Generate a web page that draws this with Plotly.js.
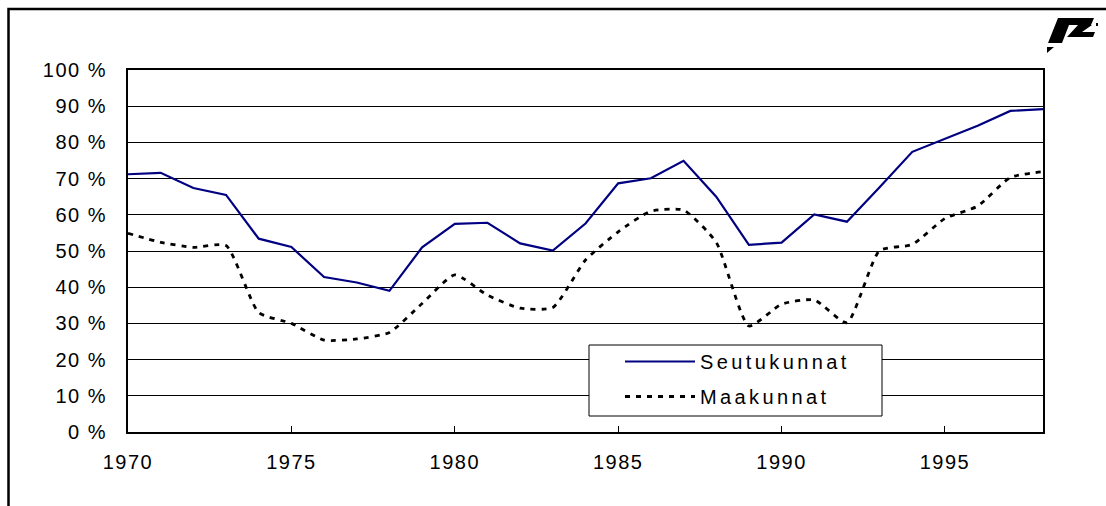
<!DOCTYPE html>
<html>
<head>
<meta charset="utf-8">
<script src="https://cdn.plot.ly/plotly-3.0.1.min.js"></script>
<style>
  html, body { margin: 0; padding: 0; background: #fff; }
  #chart { width: 1106px; height: 506px; }
  .xtick text, .ytick text { letter-spacing: 1.5px; }
  .legendtext { letter-spacing: 3.4px; }
</style>
</head>
<body>
<div id="chart"></div>
<script>
// Data
const years = [1970,1971,1972,1973,1974,1975,1976,1977,1978,1979,1980,1981,1982,1983,1984,1985,1986,1987,1988,1989,1990,1991,1992,1993,1994,1995,1996,1997,1998];
const seutukunnat = [71.2,71.6,67.4,65.5,53.4,51.1,42.8,41.3,39.0,51.0,57.5,57.8,52.1,50.1,57.6,68.7,70.1,74.9,65.0,51.7,52.3,60.1,58.1,67.6,77.4,80.9,84.6,88.7,89.2];
const maakunnat  = [54.9,52.4,51.0,51.5,33.0,30.0,25.4,25.7,27.5,35.5,43.4,37.8,34.2,34.4,47.5,55.3,61.0,61.3,52.4,29.3,35.3,36.5,30.2,50.1,51.8,59.0,62.4,70.3,71.9];
const seriesNames = ['Seutukunnat', 'Maakunnat'];
const xTicks = [1970,1975,1980,1985,1990,1995];
const yTicks = [0,10,20,30,40,50,60,70,80,90,100];

// Layout geometry (pixels) -> paper coordinates helper for decorations
const W = 1106, H = 506;
const M = {l: 128, r: 63, t: 70, b: 74};
const PW = W - M.l - M.r, PH = H - M.t - M.b;
const px = x => (x - M.l) / PW;
const py = y => (H - M.b - y) / PH;
function poly(pts) {
  return 'M' + pts.map(p => px(p[0]) + ',' + py(p[1])).join('L') + 'Z';
}

const font = "Arial, 'Liberation Sans', sans-serif";

const traces = [
  {
    x: years, y: seutukunnat, name: seriesNames[0], type: 'scatter', mode: 'lines',
    line: {color: '#000080', width: 2.2},
    legendgroup: 'a'
  },
  {
    x: years, y: maakunnat, name: seriesNames[1], type: 'scatter', mode: 'lines',
    line: {color: '#000000', width: 2.8, dash: '5px,6px', shape: 'spline', smoothing: 0.55},
    legendgroup: 'b'
  }
];

const shapes = [
  // outer chart frame (extends past right/bottom edges)
  {type: 'path', xref: 'paper', yref: 'paper', path: 'M' + px(1110) + ',' + py(9) + 'L' + px(8.5) + ',' + py(9) + 'L' + px(8.5) + ',' + py(510),
   line: {color: '#000', width: 2.5}, layer: 'above'},
  // legend box
  {type: 'rect', xref: 'paper', yref: 'paper', x0: px(589), x1: px(882), y0: py(416), y1: py(345),
   fillcolor: '#ffffff', line: {color: '#000', width: 1}, layer: 'above'},
  // logo
  {type: 'path', xref: 'paper', yref: 'paper', path: poly([[1058,18],[1094,18],[1091,25],[1069,25],[1062,43],[1048,43]]),
   fillcolor: '#000', line: {width: 0}, layer: 'above'},
  {type: 'path', xref: 'paper', yref: 'paper', path: poly([[1078,25],[1092,25],[1082,32],[1095,32],[1093,37],[1067,37]]),
   fillcolor: '#000', line: {width: 0}, layer: 'above'},
  {type: 'path', xref: 'paper', yref: 'paper', path: poly([[1047,47],[1054,47],[1047,53]]),
   fillcolor: '#000', line: {width: 0}, layer: 'above'},
  {type: 'path', xref: 'paper', yref: 'paper', path: poly([[1096,23],[1098,23],[1098,26],[1096,26]]),
   fillcolor: '#000', line: {width: 0}, layer: 'above'}
];

const layout = {
  width: W, height: H,
  margin: M,
  paper_bgcolor: '#ffffff', plot_bgcolor: '#ffffff',
  font: {family: font, size: 20, color: '#000'},
  showlegend: true,
  legend: {
    x: px(620), y: py(342), xanchor: 'left', yanchor: 'top',
    bgcolor: 'rgba(0,0,0,0)', borderwidth: 0,
    font: {family: font, size: 20, color: '#000'},
    itemwidth: 70, traceorder: 'grouped', tracegroupgap: 6
  },
  xaxis: {
    range: [1970, 1998], tickmode: 'array', tickvals: xTicks, ticktext: xTicks.map(String),
    showgrid: false, zeroline: false,
    showline: true, linecolor: '#000', linewidth: 2, mirror: true,
    ticks: 'inside', ticklen: 6, tickwidth: 1, tickcolor: '#000',
    ticklabelstandoff: 11,
    tickfont: {family: font, size: 20, color: '#000'}
  },
  yaxis: {
    range: [0, 100], tickmode: 'array', tickvals: yTicks, ticktext: yTicks.map(v => v + ' %'),
    showgrid: true, gridcolor: '#000', gridwidth: 1, zeroline: false,
    showline: true, linecolor: '#000', linewidth: 2, mirror: true,
    ticks: '', ticklabelstandoff: 15,
    tickfont: {family: font, size: 20, color: '#000'}
  },
  shapes: shapes
};

Plotly.newPlot('chart', traces, layout, {displayModeBar: false, staticPlot: true});
</script>
</body>
</html>
